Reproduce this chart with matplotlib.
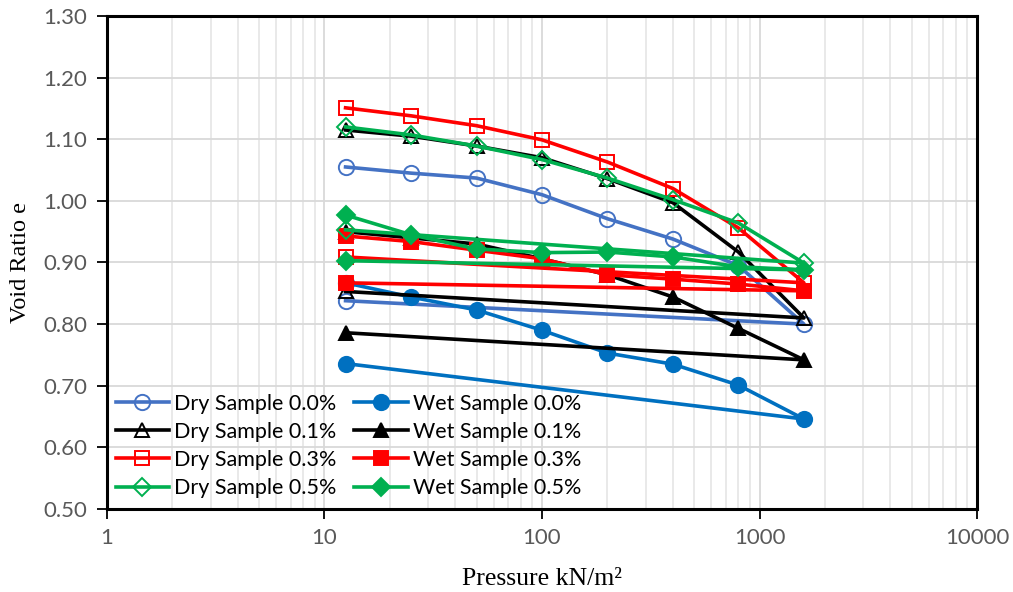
import matplotlib
matplotlib.use("Agg")
import matplotlib.pyplot as plt
from matplotlib.ticker import FixedLocator, NullFormatter, LogLocator

# Consolidation path: loading up to 1600 kN/m², then unloading back to 12.5
pressure = [12.5, 25, 50, 100, 200, 400, 800, 1600, 12.5]

dry_00 = [1.055, 1.045, 1.037, 1.010, 0.971, 0.938, 0.895, 0.800, 0.838]
wet_00 = [0.867, 0.844, 0.823, 0.790, 0.753, 0.735, 0.701, 0.646, 0.736]
dry_01 = [1.115, 1.105, 1.089, 1.070, 1.036, 0.997, 0.917, 0.810, 0.853]
wet_01 = [0.950, 0.940, 0.930, 0.906, 0.880, 0.844, 0.793, 0.742, 0.786]
dry_03 = [1.151, 1.138, 1.122, 1.099, 1.063, 1.020, 0.956, 0.867, 0.909]
wet_03 = [0.943, 0.934, 0.920, 0.906, 0.880, 0.873, 0.865, 0.854, 0.867]
dry_05 = [1.120, 1.107, 1.089, 1.067, 1.037, 1.002, 0.964, 0.899, 0.953]
wet_05 = [0.977, 0.945, 0.922, 0.916, 0.917, 0.909, 0.893, 0.888, 0.903]

labels = ["Dry Sample 0.0%", "Wet Sample 0.0%",
          "Dry Sample 0.1%", "Wet Sample 0.1%",
          "Dry Sample 0.3%", "Wet Sample 0.3%",
          "Dry Sample 0.5%", "Wet Sample 0.5%"]

x_ticks = [1, 10, 100, 1000, 10000]
y_ticks = [0.50, 0.60, 0.70, 0.80, 0.90, 1.00, 1.10, 1.20, 1.30]

series = [
    (dry_00, "#4472C4", "o", False),
    (wet_00, "#0070C0", "o", True),
    (dry_01, "#000000", "^", False),
    (wet_01, "#000000", "^", True),
    (dry_03, "#FF0000", "s", False),
    (wet_03, "#FF0000", "s", True),
    (dry_05, "#00B050", "D", False),
    (wet_05, "#00B050", "D", True),
]
marker_size = {"o": 11, "^": 10.5, "s": 10.5, "D": 9.5}

TICK_FONT = ["Lato", "DejaVu Sans"]

fig = plt.figure(figsize=(10.13, 5.92), dpi=100)
ax = fig.add_axes([0.1056, 0.1402, 0.8589, 0.8328])

handles = {}
for (vals, color, marker, filled), label in zip(series, labels):
    h, = ax.plot(pressure, vals, color=color, lw=2.6, marker=marker,
                 markersize=marker_size[marker],
                 markerfacecolor=color if filled else "none",
                 markeredgecolor=color, markeredgewidth=1.4,
                 label=label, zorder=3)
    handles[label] = h

ax.set_xscale("log")
ax.set_xlim(1, 10000)
ax.set_ylim(0.5, 1.3)
ax.xaxis.set_major_locator(FixedLocator(x_ticks))
ax.set_xticklabels([str(t) for t in x_ticks])
ax.xaxis.set_minor_locator(LogLocator(base=10, subs=range(2, 10)))
ax.xaxis.set_minor_formatter(NullFormatter())
ax.set_yticks(y_ticks)
ax.set_yticklabels([f"{t:.2f}" for t in y_ticks])

ax.grid(True, which="major", color="#D9D9D9", lw=1.3, zorder=0)
ax.grid(True, which="minor", axis="x", color="#E3E3E3", lw=1.1, zorder=0)
ax.set_axisbelow(True)

for s in ax.spines.values():
    s.set_linewidth(2.2)
    s.set_color("black")

ax.tick_params(axis="both", which="major", direction="out", length=7,
               width=1.3, colors="black", labelcolor="#595959",
               labelsize=16, pad=7)
ax.tick_params(axis="x", which="minor", length=0)
for lbl in ax.get_xticklabels() + ax.get_yticklabels():
    lbl.set_fontfamily(TICK_FONT)

ax.set_xlabel("Pressure kN/m²", fontfamily="Liberation Serif", fontsize=18.5,
              labelpad=14)
ax.set_ylabel("Void Ratio e", fontfamily="Liberation Serif", fontsize=17.5,
              labelpad=9)

order = ["Dry Sample 0.0%", "Dry Sample 0.1%", "Dry Sample 0.3%", "Dry Sample 0.5%",
         "Wet Sample 0.0%", "Wet Sample 0.1%", "Wet Sample 0.3%", "Wet Sample 0.5%"]
leg = ax.legend([handles[k] for k in order], order, ncol=2, loc="lower left",
                bbox_to_anchor=(-0.005, -0.004), frameon=False,
                prop={"family": TICK_FONT, "size": 15.5},
                handlelength=2.5, handletextpad=0.23, columnspacing=0.8,
                labelspacing=0.38, borderaxespad=0.3, borderpad=0.3)

fig.savefig("out.png", dpi=100)
